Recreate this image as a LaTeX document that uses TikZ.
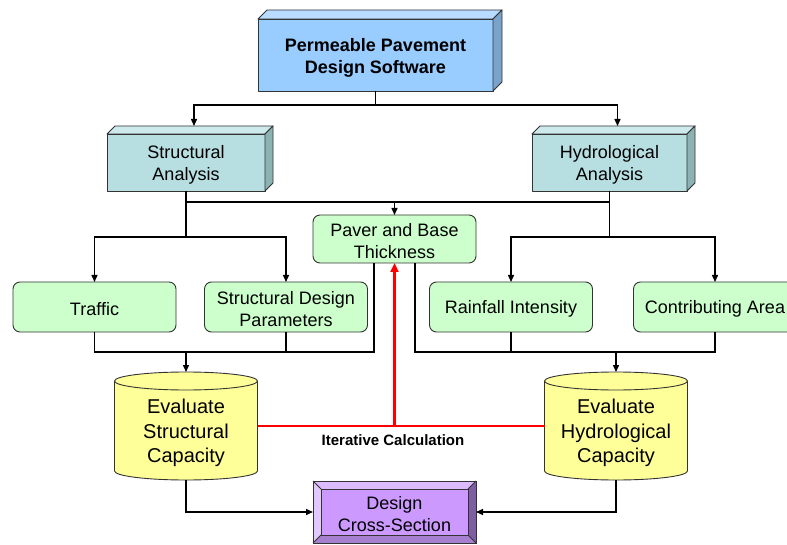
\documentclass[tikz,border=0pt]{standalone}
\usepackage{fontspec}
\setmainfont{Liberation Sans}
\usetikzlibrary{arrows.meta}
\definecolor{topfront}{HTML}{99CCFF}
\definecolor{toptop}{HTML}{B8DBFF}
\definecolor{topside}{HTML}{7AA3CC}
\definecolor{anfront}{HTML}{B7DEE0}
\definecolor{antop}{HTML}{CDE9EB}
\definecolor{anside}{HTML}{8CB2B4}
\definecolor{grn}{HTML}{CCFFCC}
\definecolor{yel}{HTML}{FFFF99}
\definecolor{purmain}{HTML}{CC99FF}
\definecolor{purtop}{HTML}{DDBBFF}
\definecolor{purleft}{HTML}{E3C8FF}
\definecolor{purright}{HTML}{7E5EA3}
\definecolor{purbot}{HTML}{A680CF}
\definecolor{edge}{HTML}{333333}
\begin{document}
\begin{tikzpicture}[x=1pt,y=-1pt,
  bord/.style={draw=edge,line width=0.9pt,line join=round},
  txt/.style={font=\fontsize{18}{22}\selectfont,align=center,text=black,inner sep=0pt},
  frontbox/.style={bord,rectangle,inner sep=0pt,outer sep=0pt},
  greenbox/.style={frontbox,fill=grn,rounded corners=7pt,minimum width=163pt,minimum height=50pt},
  conn/.style={line width=1.4pt,black},
  arr/.style={conn,-{Triangle[length=7pt,width=6pt]}},
  redline/.style={line width=2.6pt,red},
  redarr/.style={redline,-{Triangle[length=9pt,width=8pt]}}]
\clip (0,0) rectangle (787,545);
\fill[white] (0,0) rectangle (787,545);

% top 3D box
\node[frontbox,fill=topfront,minimum width=235pt,minimum height=72pt] (top) at (375.5,55) {};
\filldraw[bord,fill=toptop] (top.north west) -- ++(9,-9) -- ([shift={(9,-9)}]top.north east) -- (top.north east) -- cycle;
\filldraw[bord,fill=topside] (top.north east) -- ++(9,-9) -- ([shift={(9,-9)}]top.south east) -- (top.south east) -- cycle;
\node[txt,font=\fontsize{18}{22}\selectfont\bfseries] (topT) at ([yshift=-2.5pt]top.center) {Permeable Pavement\\Design Software};

% analysis 3D boxes
\node[frontbox,fill=anfront,minimum width=158pt,minimum height=57pt] (sa) at (186,162.5) {};
\filldraw[bord,fill=antop] (sa.north west) -- ++(8,-8) -- ([shift={(8,-8)}]sa.north east) -- (sa.north east) -- cycle;
\filldraw[bord,fill=anside] (sa.north east) -- ++(8,-8) -- ([shift={(8,-8)}]sa.south east) -- (sa.south east) -- cycle;
\coordinate (saTop) at ([shift={(8,-8)}]sa.north);
\node[txt] (saT) at ([yshift=-2pt]sa.center) {Structural\\Analysis};

\node[frontbox,fill=anfront,minimum width=155pt,minimum height=57pt] (ha) at (609.5,162.5) {};
\filldraw[bord,fill=antop] (ha.north west) -- ++(8,-8) -- ([shift={(8,-8)}]ha.north east) -- (ha.north east) -- cycle;
\filldraw[bord,fill=anside] (ha.north east) -- ++(8,-8) -- ([shift={(8,-8)}]ha.south east) -- (ha.south east) -- cycle;
\coordinate (haTop) at ([shift={(8,-8)}]ha.north);
\node[txt] (haT) at ([yshift=-2pt]ha.center) {Hydrological\\Analysis};

% green boxes
\node[greenbox,minimum height=48pt] (pv) at (394.5,239) {};
\node[txt] (pvT) at ([yshift=-2pt]pv.center) {Paver and Base\\Thickness};
\node[greenbox] (tr) at (94.5,307) {};
\node[txt] (trT) at ([yshift=-2pt]tr.center) {Traffic};
\node[greenbox] (sd) at (286,307) {};
\node[txt] (sdT) at ([yshift=-2pt]sd.center) {Structural Design\\Parameters};
\node[greenbox] (ri) at (511,307) {};
\node[txt] (riT) at ([yshift=-2pt]ri.center) {Rainfall Intensity};
\node[greenbox] (ca) at (715,307) {};
\node[txt] (caT) at ([yshift=-2pt]ca.center) {Contributing Area};

% cylinders
\foreach \cx/\nm in {186/s,616/h}{
  \filldraw[bord,fill=yel] (\cx,471) ellipse[x radius=71.5pt,y radius=9pt];
  \fill[yel] (\cx-71.5,381) rectangle (\cx+71.5,471);
  \draw[bord] (\cx-71.5,381) -- (\cx-71.5,471) (\cx+71.5,381) -- (\cx+71.5,471);
  \filldraw[bord,fill=yel] (\cx,381) ellipse[x radius=71.5pt,y radius=9pt];
  \coordinate (\nm ctop) at (\cx,372);
  \coordinate (\nm cbot) at (\cx,480);
}
\coordinate (scr) at (257.5,426);
\coordinate (hcl) at (544.5,426);
\node[txt,font=\fontsize{20}{24.5}\selectfont] (sc) at (186,433) {Evaluate\\Structural\\Capacity};
\node[txt,font=\fontsize{20}{24.5}\selectfont] (hc) at (616,433) {Evaluate\\Hydrological\\Capacity};

% design cross-section bevel box
\node[frontbox,fill=purmain,minimum width=163pt,minimum height=62pt] (dcs) at (394.5,512) {};
\fill[purtop] (313,481) -- (476,481) -- (468,489) -- (321,489) -- cycle;
\fill[purleft] (313,481) -- (321,489) -- (321,535) -- (313,543) -- cycle;
\fill[purright] (476,481) -- (476,543) -- (468,535) -- (468,489) -- cycle;
\fill[purbot] (313,543) -- (476,543) -- (468,535) -- (321,535) -- cycle;
\draw[bord] (313,481) -- (321,489) (476,481) -- (468,489) (313,543) -- (321,535) (476,543) -- (468,535);
\draw[bord] (321,489) rectangle (468,535);
\draw[bord] (dcs.north west) rectangle (dcs.south east);
\node[txt] (dcsT) at ([yshift=-2pt]dcs.center) {Design\\Cross-Section};

% connectors level 1
\draw[conn] (top.south) -- ++(0,14) coordinate (tj);
\draw[arr] (tj) -| (saTop);
\draw[arr] (tj) -| (haTop);

% level 2
\draw[conn] (sa.south) -- ++(0,46) coordinate (sj);
\draw[conn] (ha.south) -- ++(0,46) coordinate (hj);
\draw[conn] (sa.south |- 0,202) -- (ha.south |- 0,202);
\draw[arr] (pv.north |- 0,202) -- (pv.north);
\draw[arr] (sj) -| (tr.north);
\draw[arr] (sj) -| (sd.north);
\draw[arr] (hj) -| (ri.north);
\draw[arr] (hj) -| (ca.north);

% level 3
\coordinate (pvL) at (374,263);
\coordinate (pvR) at (415,263);
\coordinate (jL) at (186,352);
\coordinate (jR) at (616,352);
\draw[conn] (tr.south) |- (pvL |- jL) -- (pvL);
\draw[conn] (sd.south) -- (sd.south |- jL);
\draw[arr] (jL) -- (sctop);
\draw[conn] (ca.south) |- (pvR |- jR) -- (pvR);
\draw[conn] (ri.south) -- (ri.south |- jR);
\draw[arr] (jR) -- (hctop);

% iteration
\draw[redline] (scr) -- (hcl);
\draw[redarr] (pv.south |- scr) -- (pv.south);
\node[font=\fontsize{15}{18}\selectfont\bfseries] (ic) at (393,440) {Iterative Calculation};

% bottom
\draw[arr] (scbot) |- (dcs.west);
\draw[arr] (hcbot) |- (dcs.east);
\end{tikzpicture}
\end{document}
